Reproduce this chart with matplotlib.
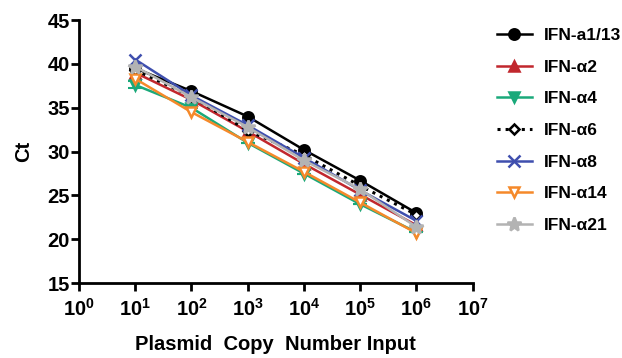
import matplotlib
matplotlib.use("Agg")
import matplotlib.pyplot as plt

plt.rcParams['font.family'] = ['Liberation Sans', 'DejaVu Sans']
plt.rcParams['font.weight'] = 'bold'
plt.rcParams['mathtext.fontset'] = 'custom'
plt.rcParams['mathtext.rm'] = 'Liberation Sans:bold'
plt.rcParams['mathtext.it'] = 'Liberation Sans:bold'
plt.rcParams['mathtext.bf'] = 'Liberation Sans:bold'

copies = [1e1, 1e2, 1e3, 1e4, 1e5, 1e6]
labels = ['IFN-a1/13', 'IFN-α2', 'IFN-α4', 'IFN-α6', 'IFN-α8', 'IFN-α14', 'IFN-α21']
ct_a1_13 = [39.5, 36.9, 34.0, 30.2, 26.7, 23.0]
ct_a2 = [39.0, 35.9, 32.3, 28.6, 25.1, 21.6]
ct_a4 = [37.6, 35.0, 31.0, 27.5, 24.0, 20.8]
ct_a6 = [39.3, 36.3, 32.4, 29.6, 26.1, 22.8]
ct_a8 = [40.5, 36.4, 33.0, 29.3, 25.6, 22.1]
ct_a14 = [38.3, 34.5, 31.1, 27.7, 24.2, 20.7]
ct_a21 = [39.7, 36.2, 32.8, 29.0, 25.7, 21.4]
err_a4 = [0.4, 0, 0, 0, 0, 0]

series = [ct_a1_13, ct_a2, ct_a4, ct_a6, ct_a8, ct_a14, ct_a21]
colors = ['black', '#c1272d', '#1aa97a', 'black', '#3f4fae', '#f5892a', '#b3b3b3']
markers = ['o', '^', 'v', 'D', 'x', 'v', '*']
styles = ['-', '-', '-', ':', '-', '-', '-']
mfcs = ['black', '#c1272d', '#1aa97a', 'white', '#3f4fae', 'white', '#b3b3b3']
msizes = [7.5, 7.5, 7.5, 5.5, 9, 7.5, 10.5]

fig = plt.figure(figsize=(6.22, 3.58), dpi=100)
ax = fig.add_axes([0.127, 0.209, 0.633, 0.735])

for i, (ys, lab) in enumerate(zip(series, labels)):
    ax.plot(copies, ys, linestyle=styles[i], color=colors[i], marker=markers[i],
            markerfacecolor=mfcs[i], markeredgecolor=colors[i], markersize=msizes[i],
            markeredgewidth=1.8, linewidth=1.8 if styles[i] == '-' else 2.2, label=lab,
            zorder=3 + i)
    if lab == 'IFN-α4':
        ax.errorbar(copies, ys, yerr=err_a4, fmt='none', ecolor=colors[i],
                    elinewidth=1.5, capsize=5, capthick=1.5, zorder=3 + i)

ax.set_xscale('log')
ax.set_xlim(1, 1e7)
ax.set_ylim(15, 45)
ax.set_yticks([15, 20, 25, 30, 35, 40, 45])
ax.set_xticks([10**k for k in range(8)])
ax.minorticks_off()
for s in ['top', 'right']:
    ax.spines[s].set_visible(False)
for s in ['left', 'bottom']:
    ax.spines[s].set_linewidth(2)
ax.tick_params(axis='both', which='major', direction='out', length=5.5, width=2,
               labelsize=14.5)
ax.tick_params(axis='y', pad=1)
ax.tick_params(axis='x', pad=5)
ax.set_ylabel('Ct', fontsize=14.5, fontweight='bold', labelpad=10)
ax.set_xlabel('Plasmid  Copy  Number Input', fontsize=14.5, fontweight='bold', labelpad=11)

fig.legend(loc='upper left', bbox_to_anchor=(0.799, 0.922), frameon=False, fontsize=12.5,
           handlelength=2.0, labelspacing=0.95, handletextpad=0.7, borderaxespad=0,
           borderpad=0)

fig.savefig('out.png', dpi=100)
